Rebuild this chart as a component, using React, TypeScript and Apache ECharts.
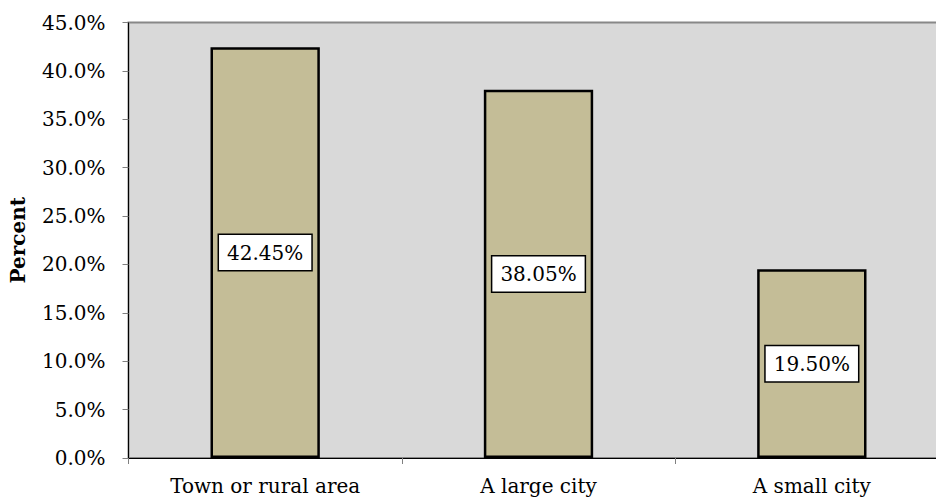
import React, { useEffect, useRef } from "react";
import * as echarts from "echarts";

const categories = ["Town or rural area", "A large city", "A small city"];
const percents = [42.45, 38.05, 19.5];
const yAxisName = "Percent";

const FONT = "DejaVu Serif";

export default function App() {
  const ref = useRef<HTMLDivElement>(null);
  useEffect(() => {
    if (!ref.current) return;
    const chart = echarts.init(ref.current, null, { renderer: "svg" });
    chart.setOption({
      animation: false,
      backgroundColor: "#ffffff",
      grid: {
        left: 128.5,
        top: 22.5,
        right: -12.5,
        bottom: 41,
        outerBoundsMode: "none",
        containLabel: false,
        show: true,
        backgroundColor: "#d9d9d9",
        borderColor: "#888888",
        borderWidth: 2,
      },
      xAxis: {
        type: "category",
        data: categories,
        axisLine: { show: true, lineStyle: { color: "#000000", width: 1 } },
        axisTick: { show: true, length: 6, lineStyle: { color: "#808080" } },
        axisLabel: {
          margin: 18,
          fontSize: 20,
          color: "#000000",
          fontFamily: FONT,
          interval: 0,
        },
        splitLine: { show: false },
      },
      yAxis: {
        type: "value",
        min: 0,
        max: 45,
        interval: 5,
        name: yAxisName,
        nameLocation: "middle",
        nameGap: 101,
        nameRotate: 90,
        nameTextStyle: {
          fontSize: 20,
          fontWeight: "bold",
          color: "#000000",
          fontFamily: FONT,
        },
        axisLine: { show: true, lineStyle: { color: "#000000", width: 1 } },
        axisTick: { show: true, length: 6, lineStyle: { color: "#808080" } },
        axisLabel: {
          margin: 23,
          fontSize: 20,
          color: "#000000",
          fontFamily: FONT,
          formatter: (v: number) => v.toFixed(1) + "%",
        },
        splitLine: { show: false },
      },
      series: [
        {
          type: "bar",
          data: percents,
          barWidth: "40%",
          itemStyle: {
            color: "#c4bd97",
            borderColor: "#000000",
            borderWidth: 2.5,
          },
          label: {
            show: true,
            position: "inside",
            formatter: (p: any) => Number(p.value).toFixed(2) + "%",
            fontSize: 20,
            fontFamily: FONT,
            color: "#000000",
            backgroundColor: "#ffffff",
            borderColor: "#000000",
            borderWidth: 1.5,
            padding: [8, 8, 7, 8],
          },
        },
      ],
    });
    return () => chart.dispose();
  }, []);
  return (
    <div
      ref={ref}
      style={{ position: "fixed", left: 0, top: 0, width: 936, height: 499 }}
    />
  );
}
